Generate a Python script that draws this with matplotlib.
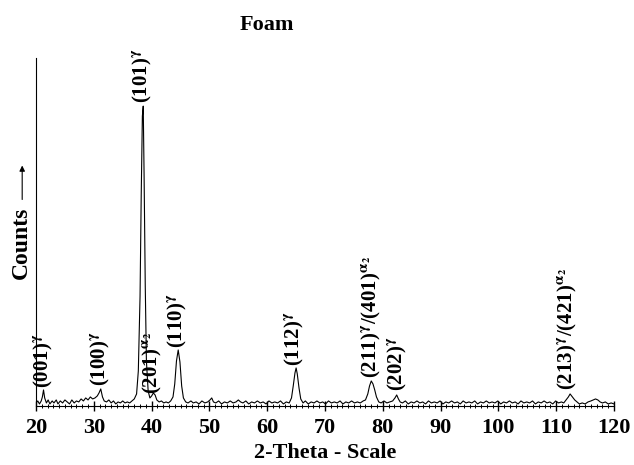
import matplotlib
matplotlib.use("Agg")
import matplotlib.pyplot as plt
from matplotlib.ticker import MultipleLocator

plt.rcParams['font.family'] = ['Liberation Serif', 'DejaVu Serif']
plt.rcParams['mathtext.fontset'] = 'stix'
plt.rcParams['mathtext.default'] = 'bf'

# diffractogram (2-theta in degrees, counts in arbitrary units)
two_theta = [20.0, 20.3, 20.6, 20.9, 21.1, 21.3, 21.5, 21.8, 22.1, 22.4, 22.8, 23.1,
             23.5, 23.8, 24.2, 24.6, 25.0, 25.4, 25.8, 26.2, 26.6, 27.0, 27.4, 27.8,
             28.2, 28.6, 29.0, 29.4, 29.8, 30.2, 30.6, 30.9, 31.2, 31.5, 31.8, 32.2,
             32.6, 33.0, 33.4, 33.8, 34.2, 34.6, 35.0, 35.4, 35.8, 36.2, 36.6, 37.0,
             37.4, 37.7, 38.0, 38.2, 38.4, 38.55, 38.7, 38.9, 39.1, 39.4, 39.7, 40.0,
             40.3, 40.6, 40.9, 41.3, 41.7, 42.1, 42.5, 42.9, 43.3, 43.7, 44.0, 44.3,
             44.6, 44.9, 45.2, 45.5, 45.9, 46.3, 46.8, 47.2, 47.7, 48.2, 48.7, 49.2,
             49.7, 50.1, 50.4, 50.7, 51.1, 51.6, 52.1, 52.6, 53.1, 53.6, 54.1, 54.6,
             55.0, 55.4, 55.8, 56.3, 56.8, 57.3, 57.8, 58.3, 58.8, 59.3, 59.8, 60.3,
             60.8, 61.3, 61.8, 62.3, 62.8, 63.3, 63.8, 64.2, 64.5, 64.8, 65.0, 65.2,
             65.5, 65.8, 66.2, 66.6, 67.1, 67.6, 68.1, 68.6, 69.1, 69.6, 70.1, 70.6,
             71.1, 71.6, 72.1, 72.6, 73.1, 73.6, 74.1, 74.6, 75.1, 75.6, 76.1, 76.6,
             77.0, 77.4, 77.7, 78.0, 78.3, 78.6, 78.9, 79.3, 79.7, 80.2, 80.7, 81.2,
             81.7, 82.1, 82.4, 82.7, 83.0, 83.4, 83.9, 84.4, 84.9, 85.4, 85.9, 86.4,
             86.9, 87.4, 87.9, 88.4, 88.9, 89.4, 89.9, 90.4, 90.9, 91.4, 91.9, 92.4,
             92.9, 93.4, 93.9, 94.4, 94.9, 95.4, 95.9, 96.4, 96.9, 97.4, 97.9, 98.4,
             98.9, 99.4, 99.9, 100.4, 100.9, 101.4, 101.9, 102.4, 102.9, 103.4, 103.9, 104.4,
             104.9, 105.4, 105.9, 106.4, 106.9, 107.4, 107.9, 108.4, 108.9, 109.4, 109.9, 110.4,
             110.9, 111.3, 111.7, 112.1, 112.4, 112.8, 113.2, 113.6, 114.0, 114.5, 115.0, 115.5,
             116.0, 116.4, 116.8, 117.2, 117.6, 118.0, 118.5, 119.0, 119.5, 120.0]
counts = [3, 5, 2, 5, 9, 16, 8, 3, 6, 2, 5, 3,
          6, 2, 5, 3, 6, 4, 2, 6, 3, 5, 4, 7,
          5, 8, 6, 9, 7, 8, 10, 13, 17, 9, 5, 4,
          6, 3, 5, 2, 4, 3, 5, 3, 4, 3, 5, 7,
          12, 35, 110, 210, 290, 300, 230, 120, 45, 15, 8, 10,
          13, 11, 6, 4, 5, 3, 4, 3, 5, 9, 22, 45,
          56, 44, 20, 8, 4, 3, 5, 3, 4, 2, 5, 3,
          4, 6, 8, 4, 3, 5, 2, 4, 3, 5, 3, 4,
          6, 4, 3, 5, 2, 4, 3, 5, 3, 4, 2, 5,
          3, 4, 3, 5, 2, 4, 3, 8, 20, 33, 38, 32,
          18, 7, 3, 5, 2, 4, 3, 5, 3, 4, 2, 5,
          3, 4, 3, 5, 2, 4, 3, 5, 3, 4, 3, 5,
          6, 12, 20, 25, 22, 16, 9, 4, 3, 5, 3, 4,
          5, 8, 11, 7, 4, 3, 5, 2, 4, 3, 5, 3,
          4, 2, 5, 3, 4, 3, 5, 2, 4, 3, 5, 3,
          4, 2, 5, 3, 4, 3, 5, 2, 4, 3, 5, 3,
          4, 3, 5, 2, 4, 3, 5, 3, 4, 2, 5, 3,
          4, 3, 5, 2, 4, 3, 5, 3, 4, 2, 5, 3,
          4, 3, 6, 9, 12, 9, 6, 4, 2, 3, 2, 4,
          5, 6, 7, 6, 4, 3, 4, 2, 3, 2]

peak_pos = [21.3, 31.1, 38.4, 40.1, 44.4, 64.8, 78.1, 82.5, 112.0]
peak_top = [18, 20, 303, 12, 58, 40, 28, 15, 16]
peak_labels = [r'(001)$^{\gamma}$', r'(100)$^{\gamma}$', r'(101)$^{\gamma}$',
               r'(201)$^{\alpha_2}$', r'(110)$^{\gamma}$', r'(112)$^{\gamma}$',
               r'(211)$^{\gamma}$/(401)$^{\alpha_2}$', r'(202)$^{\gamma}$',
               r'(213)$^{\gamma}$/(421)$^{\alpha_2}$']

fig = plt.figure(figsize=(6.34, 4.65), dpi=100)
ax = fig.add_axes([0.0568, 0.127, 0.9117, 0.748])

ax.plot(two_theta, counts, color='black', linewidth=0.8)

for x, y, lab in zip(peak_pos, peak_top, peak_labels):
    ax.text(x, y, lab, rotation=90, ha='center', va='bottom',
            fontsize=15, fontweight='bold')

ax.set_xlim(20, 120)
ax.set_ylim(0, 348)
ax.spines['top'].set_visible(False)
ax.spines['right'].set_visible(False)
ax.set_yticks([])
ax.xaxis.set_major_locator(MultipleLocator(10))
ax.xaxis.set_minor_locator(MultipleLocator(1))
ax.tick_params(axis='x', which='major', direction='inout', length=7, width=1,
               labelsize=16, pad=5)
ax.tick_params(axis='x', which='minor', direction='inout', length=3, width=0.7)
for t in ax.get_xticklabels():
    t.set_fontweight('bold')

ax.set_xlabel('2-Theta - Scale', fontsize=16, fontweight='bold', labelpad=4)
fig.text(0.421, 0.946, 'Foam', ha='center', va='center', fontsize=16, fontweight='bold')

# "Counts" with an upward arrow
fig.text(0.033, 0.477, 'Counts', rotation=90, ha='center', va='center',
         fontsize=17, fontweight='bold')
ax.annotate('', xy=(0.035, 0.65), xytext=(0.035, 0.565), xycoords='figure fraction',
            arrowprops=dict(arrowstyle='-|>', color='black', lw=0.8,
                            mutation_scale=8))

fig.savefig('out.png', dpi=100)
